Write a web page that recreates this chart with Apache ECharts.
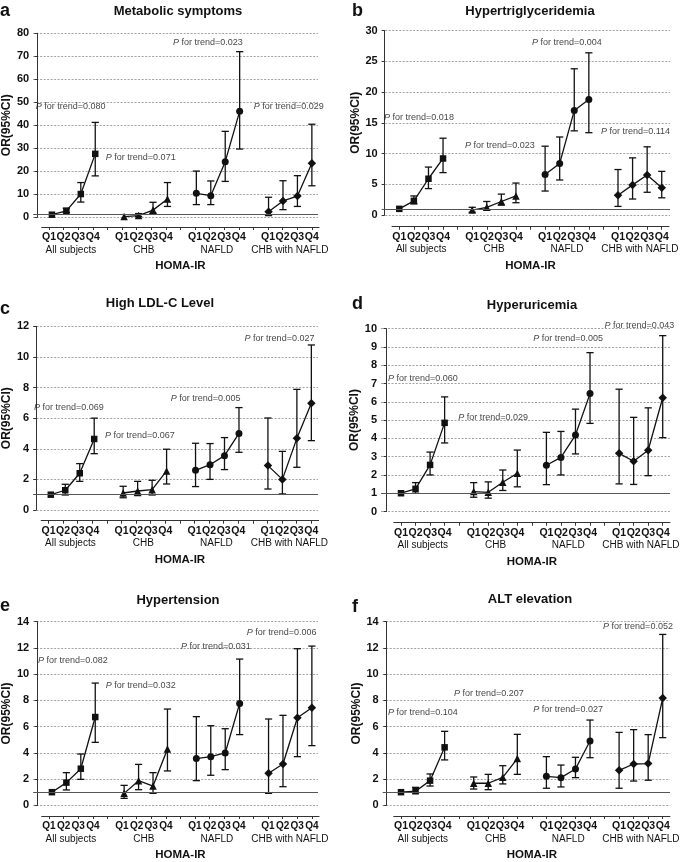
<!DOCTYPE html>
<html><head><meta charset="utf-8">
<script src="https://cdn.jsdelivr.net/npm/echarts@6/dist/echarts.min.js"></script>
<style>html,body{margin:0;padding:0;background:#fff}#c{width:685px;height:862px}</style>
</head><body><div id="c"></div>
<script>
// ---------- DATA ----------
const groups = ['All subjects', 'CHB', 'NAFLD', 'CHB with NAFLD'];
const quartiles = ['Q1', 'Q2', 'Q3', 'Q4'];
const titles = ['Metabolic symptoms', 'Hypertriglyceridemia', 'High LDL-C Level', 'Hyperuricemia', 'Hypertension', 'ALT elevation'];
const letters = ['a', 'b', 'c', 'd', 'e', 'f'];
const yMax = [80, 30, 12, 10, 14, 14];
const yStep = [10, 5, 2, 1, 2, 2];

// OR, lower CI, upper CI; rows = groups, cols = Q1..Q4
const a_or = [[1.0,2.7,10.0,27.5],[0.2,0.6,3.0,7.8],[10.3,9.3,24.1,46.0],[2.3,7.0,9.1,23.4]];
const a_lo = [[1.0,1.9,6.5,17.9],[0.2,0.2,1.6,4.6],[5.4,5.4,15.5,29.6],[0.6,3.2,4.6,13.6]];
const a_hi = [[1.0,3.8,15.0,41.2],[0.2,1.5,6.4,15.0],[20.0,15.7,37.3,72.0],[8.6,15.8,18.0,40.4]];

const b_or = [[1.0,2.3,5.9,9.2],[0.8,1.25,2.2,3.1],[6.6,8.4,17.0,18.8],[3.2,4.9,6.5,4.45]];
const b_lo = [[1.0,1.8,4.3,6.9],[0.45,0.8,1.6,2.0],[3.9,5.7,13.7,13.4],[1.4,2.6,3.7,2.8]];
const b_hi = [[1.0,3.1,7.8,12.5],[1.25,2.2,3.4,5.2],[11.2,12.7,23.8,26.4],[7.4,9.3,11.1,7.1]];

const c_or = [[1.0,1.29,2.4,4.64],[1.11,1.24,1.33,2.55],[2.59,2.96,3.55,5.0],[2.9,2.0,4.68,6.97]];
const c_lo = [[1.0,0.98,1.87,3.68],[0.8,0.94,0.98,1.7],[1.53,2.0,2.64,3.77],[1.37,1.05,2.79,4.53]];
const c_hi = [[1.0,1.68,3.03,6.0],[1.55,1.87,1.94,3.97],[4.36,4.34,4.73,6.69],[6.01,3.83,7.88,10.78]];

const d_or = [[1.0,1.24,2.55,4.85],[1.09,1.05,1.6,2.09],[2.53,2.96,4.18,6.45],[3.18,2.75,3.35,6.22]];
const d_lo = [[1.0,1.0,2.0,3.75],[0.78,0.73,1.15,1.35],[1.47,2.0,3.15,4.82],[1.51,1.48,1.96,4.04]];
const d_hi = [[1.0,1.58,3.25,6.27],[1.58,1.62,2.27,3.36],[4.33,4.38,5.6,8.69],[6.69,5.15,5.67,9.62]];

const e_or = [[1.0,1.73,2.79,6.73],[0.91,1.88,1.47,4.29],[3.56,3.71,3.99,7.77],[2.44,3.15,6.68,7.44]];
const e_lo = [[1.0,1.17,1.98,4.8],[0.53,1.19,0.91,2.62],[1.88,2.29,2.72,5.39],[0.91,1.42,3.71,4.55]];
const e_hi = [[1.0,2.49,3.91,9.32],[1.52,3.12,2.49,7.34],[6.76,6.07,5.84,11.15],[6.58,6.86,11.94,12.14]];

const f_or = [[1.0,1.07,1.88,4.42],[1.68,1.68,2.13,3.56],[2.21,2.11,2.77,4.9],[2.67,3.15,3.18,8.18]];
const f_lo = [[1.0,0.94,1.47,3.46],[1.24,1.19,1.63,2.36],[1.3,1.4,2.11,3.63],[1.3,1.85,1.91,5.16]];
const f_hi = [[1.0,1.37,2.39,5.64],[2.16,2.36,3.02,5.41],[3.71,3.07,3.66,6.5],[5.56,5.77,5.39,13.03]];

// P for trend values per group
const a_p = ['0.080','0.071','0.023','0.029'];
const b_p = ['0.018','0.023','0.004','0.114'];
const c_p = ['0.069','0.067','0.005','0.027'];
const d_p = ['0.060','0.029','0.005','0.043'];
const e_p = ['0.082','0.032','0.031','0.006'];
const f_p = ['0.104','0.207','0.027','0.052'];

// annotation anchors (x slot, OR value) for the P labels
const a_pAt = [[2.3,48],[7.15,26],[11.8,76],[17.4,48]];
const b_pAt = [[2.35,15.9],[7.9,11.3],[12.5,28.0],[17.2,13.6]];
const c_pAt = [[2.25,6.69],[7.15,4.88],[11.7,7.3],[16.8,11.18]];
const d_pAt = [[2.5,7.27],[7.33,5.15],[12.5,9.45],[17.4,10.2]];
const e_pAt = [[2.45,11.03],[7.15,9.12],[12.35,12.14],[16.9,13.16]];
const f_pAt = [[2.5,7.06],[7.05,8.49],[12.5,7.32],[17.3,13.6]];

const panelsData = [
  [a_or,a_lo,a_hi,a_p,a_pAt],[b_or,b_lo,b_hi,b_p,b_pAt],[c_or,c_lo,c_hi,c_p,c_pAt],
  [d_or,d_lo,d_hi,d_p,d_pAt],[e_or,e_lo,e_hi,e_p,e_pAt],[f_or,f_lo,f_hi,f_p,f_pAt]
];

// ---------- LAYOUT ----------
const FONT = 'Liberation Sans, Arial, Helvetica, sans-serif';
const layout = [
  {axisX:30,  p1:49,    s:14.6,  right:318, top:33.3,  y0:217,   xLine:227,   tx:178, ty:11,  lx:0,   ly:11,  qFont:10.5},
  {axisX:381.7,p1:399.3,s:14.58, right:670, top:30.7,  y0:215,   xLine:226.7, tx:530, ty:11,  lx:352, ly:11,  qFont:10.5},
  {axisX:30.7,p1:48.5,  s:14.6,  right:318, top:326.3, y0:510,   xLine:520.7, tx:160, ty:303, lx:0,   ly:309, qFont:10.5},
  {axisX:381, p1:401,   s:14.54, right:670, top:328.7, y0:511.5, xLine:522.7, tx:532, ty:305, lx:352, ly:304, qFont:10.5},
  {axisX:30,  p1:49,    s:14.6,  right:318, top:621.7, y0:805.3, xLine:816,   tx:178, ty:600, lx:0,   ly:606, qFont:10},
  {axisX:382.7,p1:401,  s:14.54, right:670, top:621.7, y0:805.3, xLine:816.7, tx:530, ty:599, lx:352, ly:607, qFont:10.5}
];
const symbols = ['rect', 'triangle', 'circle', 'diamond'];
const symSizes = [6.5, 7.5, 7, 8.5];
const INK = '#111';

function slot(g, q) { return g * 5 + q + 1; }

const grids = [], xAxes = [], yAxes = [], series = [], graphics = [];
const qCats = [];
for (let g = 0; g < 4; g++) { quartiles.forEach(q => qCats.push(q)); if (g < 3) qCats.push(''); }
const gCats = [];
for (let j = 0; j < 39; j++) gCats.push('');
groups.forEach((n, g) => { gCats[g * 10 + 4] = n; });

function errRender(params, api) {
  const x = api.value(0), lo = api.value(1), hi = api.value(2);
  if (Math.abs(hi - lo) < 1e-6) return null;
  const pl = api.coord([x, lo]), ph = api.coord([x, hi]);
  const w = 3.6, st = { stroke: INK, lineWidth: 1.3 };
  return { type: 'group', children: [
    { type: 'line', shape: { x1: pl[0], y1: pl[1], x2: ph[0], y2: ph[1] }, style: st },
    { type: 'line', shape: { x1: ph[0] - w, y1: ph[1], x2: ph[0] + w, y2: ph[1] }, style: st },
    { type: 'line', shape: { x1: pl[0] - w, y1: pl[1], x2: pl[0] + w, y2: pl[1] }, style: st }
  ]};
}

layout.forEach((L, i) => {
  const [OR, LO, HI, P, PAT] = panelsData[i];
  const gA = grids.length;
  grids.push({ left: L.axisX, top: L.top, width: L.right - L.axisX, height: L.y0 - L.top, containLabel: false });
  const gB = grids.length;
  grids.push({ left: L.p1 - 0.5 * L.s, width: 19 * L.s, top: L.xLine - 10, height: 10, containLabel: false });

  const xA = xAxes.length;
  xAxes.push({ gridIndex: gA, type: 'value', show: false,
    min: 1 - (L.p1 - L.axisX) / L.s, max: 1 + (L.right - L.p1) / L.s });
  xAxes.push({ gridIndex: gB, type: 'category', position: 'bottom', data: qCats, boundaryGap: true,
    axisLine: { show: true, lineStyle: { color: '#333', width: 1 } },
    axisTick: { show: true, alignWithLabel: true, interval: 0, length: 3, lineStyle: { color: '#333' } },
    axisLabel: { interval: 0, margin: 5, color: INK, fontFamily: FONT, fontWeight: 'bold', fontSize: L.qFont },
    name: 'HOMA-IR', nameLocation: 'middle', nameGap: 33,
    nameTextStyle: { fontFamily: FONT, fontWeight: 'bold', fontSize: 11.5, color: INK } });
  xAxes.push({ gridIndex: gB, type: 'category', position: 'bottom', offset: 14, data: gCats, boundaryGap: false,
    axisLine: { show: false }, axisTick: { show: false },
    axisLabel: { interval: 0, margin: 4, color: INK, fontFamily: FONT, fontSize: 10 } });

  const yA = yAxes.length;
  yAxes.push({ gridIndex: gA, type: 'value', min: 0, max: yMax[i], interval: yStep[i],
    axisLine: { show: true, lineStyle: { color: '#333', width: 1 } },
    axisTick: { show: true, length: 3, lineStyle: { color: '#333' } },
    axisLabel: { margin: 4, color: INK, fontFamily: FONT, fontWeight: 'bold', fontSize: 11 },
    splitLine: { show: true, lineStyle: { type: [2, 1.5], color: '#8a8a8a', width: 0.8 } },
    name: 'OR(95%CI)', nameLocation: 'middle', nameRotate: 90, nameGap: 18,
    nameTextStyle: { fontFamily: FONT, fontWeight: 'bold', fontSize: 12, color: INK } });
  yAxes.push({ gridIndex: gB, type: 'value', show: false });

  // error bars
  const errData = [];
  for (let g = 0; g < 4; g++) for (let q = 0; q < 4; q++) errData.push([slot(g, q), LO[g][q], HI[g][q]]);
  series.push({ type: 'custom', xAxisIndex: xA, yAxisIndex: yA, renderItem: errRender, data: errData,
    encode: { x: 0, y: [1, 2] }, z: 2, silent: true, clip: false });

  // lines + markers
  for (let g = 0; g < 4; g++) {
    const s = {
      type: 'line', xAxisIndex: xA, yAxisIndex: yA, z: 3,
      data: OR[g].map((v, q) => [slot(g, q), v]),
      symbol: symbols[g], symbolSize: symSizes[g], showSymbol: true,
      lineStyle: { color: INK, width: 1.3 }, itemStyle: { color: INK, borderWidth: 0 },
      silent: true, animation: false
    };
    if (g === 0) {
      s.markLine = { silent: true, symbol: 'none', label: { show: false }, animation: false,
        lineStyle: { color: '#555', type: 'solid', width: 1.1 }, data: [{ yAxis: 1 }] };
    }
    series.push(s);
  }

  // P for trend annotations
  series.push({ type: 'scatter', xAxisIndex: xA, yAxisIndex: yA, symbolSize: 0, clip: false, silent: true, z: 5,
    data: P.map((p, g) => ({ value: [PAT[g][0], PAT[g][1]], p: p })),
    label: { show: true, position: 'inside', color: INK, fontFamily: FONT, fontSize: 9,
      formatter: (d) => '{i|P} for trend=' + d.data.p,
      rich: { i: { fontStyle: 'italic', fontFamily: FONT, fontSize: 9, color: INK } } } });

  graphics.push({ type: 'text', x: L.tx, y: L.ty, style: { text: titles[i], font: 'bold 13px ' + FONT,
    fill: INK, textAlign: 'center', textVerticalAlign: 'middle' } });
  graphics.push({ type: 'text', x: L.lx, y: L.ly, style: { text: letters[i], font: 'bold 18px ' + FONT,
    fill: INK, textAlign: 'left', textVerticalAlign: 'middle' } });
});

const chart = echarts.init(document.getElementById('c'), null, { renderer: 'canvas' });
chart.setOption({
  animation: false, backgroundColor: '#fff',
  grid: grids, xAxis: xAxes, yAxis: yAxes, series: series, graphic: graphics
});
</script></body></html>
